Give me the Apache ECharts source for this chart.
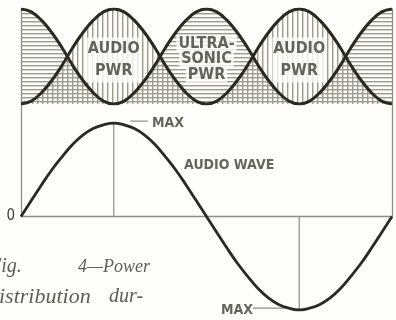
<!DOCTYPE html>
<html><head><meta charset="utf-8">
<script src="https://cdn.jsdelivr.net/npm/echarts@6/dist/echarts.min.js"></script>
<style>html,body{margin:0;padding:0;background:#fdfdfb;}#c{width:396px;height:320px;}</style>
</head><body><div id="c"></div>
<script>
// phase of one audio cycle, degrees
const phase = [0,10,20,30,40,50,60,70,80,90,100,110,120,130,140,150,160,170,180,190,200,210,220,230,240,250,260,270,280,290,300,310,320,330,340,350,360];
// audio wave (relative amplitude)
const audioWave = [0,0.17,0.34,0.5,0.64,0.77,0.87,0.94,0.98,1,0.98,0.94,0.87,0.77,0.64,0.5,0.34,0.17,0,-0.17,-0.34,-0.5,-0.64,-0.77,-0.87,-0.94,-0.98,-1,-0.98,-0.94,-0.87,-0.77,-0.64,-0.5,-0.34,-0.17,0];
// audio power (relative)
const audioPower = [0,0.03,0.12,0.25,0.41,0.59,0.75,0.88,0.97,1,0.97,0.88,0.75,0.59,0.41,0.25,0.12,0.03,0,0.03,0.12,0.25,0.41,0.59,0.75,0.88,0.97,1,0.97,0.88,0.75,0.59,0.41,0.25,0.12,0.03,0];
// ultrasonic power (relative)
const ultrasonicPower = [1,0.97,0.88,0.75,0.59,0.41,0.25,0.12,0.03,0,0.03,0.12,0.25,0.41,0.59,0.75,0.88,0.97,1,0.97,0.88,0.75,0.59,0.41,0.25,0.12,0.03,0,0.03,0.12,0.25,0.41,0.59,0.75,0.88,0.97,1];

const ink = '#2a2a22';
const hatchCol = '#9b9b8e';
const textCol = '#3e3e36';
const thin = '#8e8e84';

function pattern(horizontal){
  const c = document.createElement('canvas');
  if (horizontal){ c.width = 8; c.height = 4; }
  else { c.width = 5; c.height = 8; }
  const g = c.getContext('2d');
  g.fillStyle = hatchCol;
  if (horizontal) g.fillRect(0,1,8,1.4); else g.fillRect(2,0,1.4,8);
  return {image: c, repeat: 'repeat'};
}
const zip = (xs, ys) => xs.map((x,i)=>[x, ys[i]]);

const chart = echarts.init(document.getElementById('c'), null, {renderer:'canvas'});
const hidden = {show:false};
const fam = "'Liberation Sans Narrow', 'DejaVu Sans Condensed', 'Liberation Sans', sans-serif";
const labelFont = {fontFamily:fam, fontWeight:'bold', color:textCol};
const serif = '"Liberation Serif", serif';

chart.setOption({
  backgroundColor:'#fdfdfb',
  animation:false,
  grid:[
    {left:21, right:4, top:9, height:95},
    {left:21, right:4, top:123, bottom:10},
    {left:21, right:4, top:9, bottom:104}
  ],
  xAxis:[
    {gridIndex:0, type:'value', min:0, max:360, show:false},
    {gridIndex:1, type:'value', min:0, max:360, show:false},
    {gridIndex:2, type:'value', min:0, max:360, axisLine:{show:true, onZero:false, lineStyle:{color:thin, width:1.3}}, axisTick:hidden, axisLabel:hidden, splitLine:hidden}
  ],
  yAxis:[
    {gridIndex:0, type:'value', min:0, max:1, show:false},
    {gridIndex:1, type:'value', min:-1, max:1, interval:1, axisLine:hidden, axisTick:hidden, splitLine:hidden,
      axisLabel:{show:true, margin:6, formatter:v=> v===0?'0':'', fontFamily:fam, fontSize:15, color:textCol}},
    {gridIndex:2, type:'value', min:0, max:1, position:'left', axisLine:{show:true, lineStyle:{color:thin, width:1.3}}, axisTick:hidden, axisLabel:hidden, splitLine:hidden},
    {gridIndex:2, type:'value', min:0, max:1, position:'right', axisLine:{show:true, lineStyle:{color:thin, width:1.3}}, axisTick:hidden, axisLabel:hidden, splitLine:hidden}
  ],
  series:[
    {type:'line', xAxisIndex:0, yAxisIndex:0, data:zip(phase, ultrasonicPower), smooth:0.4, showSymbol:false,
      lineStyle:{width:0}, areaStyle:{color:pattern(true), opacity:1}, z:1},
    {type:'line', xAxisIndex:0, yAxisIndex:0, data:zip(phase, audioPower), smooth:0.4, showSymbol:false,
      lineStyle:{width:0}, areaStyle:{color:pattern(false), opacity:1}, z:1},
    {type:'line', xAxisIndex:0, yAxisIndex:0, data:zip(phase, ultrasonicPower), smooth:0.4, showSymbol:false,
      lineStyle:{width:3, color:ink}, z:5},
    {type:'line', xAxisIndex:0, yAxisIndex:0, data:zip(phase, audioPower), smooth:0.4, showSymbol:false,
      lineStyle:{width:3, color:ink}, z:5},
    // audio wave
    {type:'line', xAxisIndex:1, yAxisIndex:1, data:zip(phase, audioWave), smooth:0.4, showSymbol:false,
      lineStyle:{width:2.8, color:ink}, z:5},
    // max markers (vertical drops)
    {type:'line', xAxisIndex:1, yAxisIndex:1, data:[[90,0],[90,1]], showSymbol:false, lineStyle:{width:1.2, color:thin}, z:2},
    {type:'line', xAxisIndex:1, yAxisIndex:1, data:[[270,0],[270,-1]], showSymbol:false, lineStyle:{width:1.2, color:thin}, z:2},
    // leaders
    {type:'line', xAxisIndex:1, yAxisIndex:1, clip:false, data:[[106,1.02],[123,1.02]], showSymbol:false, lineStyle:{width:1.2, color:thin}, z:2},
    {type:'line', xAxisIndex:1, yAxisIndex:1, clip:false, data:[[225,-0.98],[262,-0.98]], showSymbol:false, lineStyle:{width:1.2, color:thin}, z:2},
    // labels
    {type:'scatter', xAxisIndex:0, yAxisIndex:0, symbolSize:0, z:10, clip:false,
      data:[
        {value:[90,0.463], label:{show:true, position:'inside', formatter:'AUDIO\nPWR', fontSize:16, lineHeight:22, backgroundColor:'#fdfdfb', padding:[1,1,0,1], ...labelFont}},
        {value:[270,0.463], label:{show:true, position:'inside', formatter:'AUDIO\nPWR', fontSize:16, lineHeight:22, backgroundColor:'#fdfdfb', padding:[1,1,0,1], ...labelFont}},
        {value:[180,0.474], label:{show:true, position:'inside', formatter:'{a|ULTRA-}\n{a|SONIC}\n{a|PWR}',
          rich:{a:{fontSize:16, lineHeight:15.5, backgroundColor:'#fdfdfb', padding:[0,2], ...labelFont}}}}
      ]},
    {type:'scatter', xAxisIndex:1, yAxisIndex:1, symbolSize:0, z:10, clip:false,
      data:[
        {value:[127,0.995], label:{show:true, position:'right', distance:0, formatter:'MAX', fontSize:14, ...labelFont}},
        {value:[225,-1.0], label:{show:true, position:'left', distance:0, formatter:'MAX', fontSize:14, ...labelFont}},
        {value:[202,0.55], label:{show:true, position:'inside', formatter:'AUDIO WAVE', fontSize:14, ...labelFont}}
      ]}
  ],
  graphic:[
    {type:'text', left:-11, top:257, style:{text:'Fig.', font:'italic 20px ' + serif, fill:'#5e5e56'}},
    {type:'text', left:78, top:258, style:{text:'4—Power', font:'italic 18px ' + serif, fill:'#5e5e56'}},
    {type:'text', left:-12, top:286, style:{text:'distribution', font:'italic 22px ' + serif, fill:'#5e5e56'}},
    {type:'text', left:109, top:287, style:{text:'dur-', font:'italic 20px ' + serif, fill:'#5e5e56'}}
  ]
});
</script></body></html>
